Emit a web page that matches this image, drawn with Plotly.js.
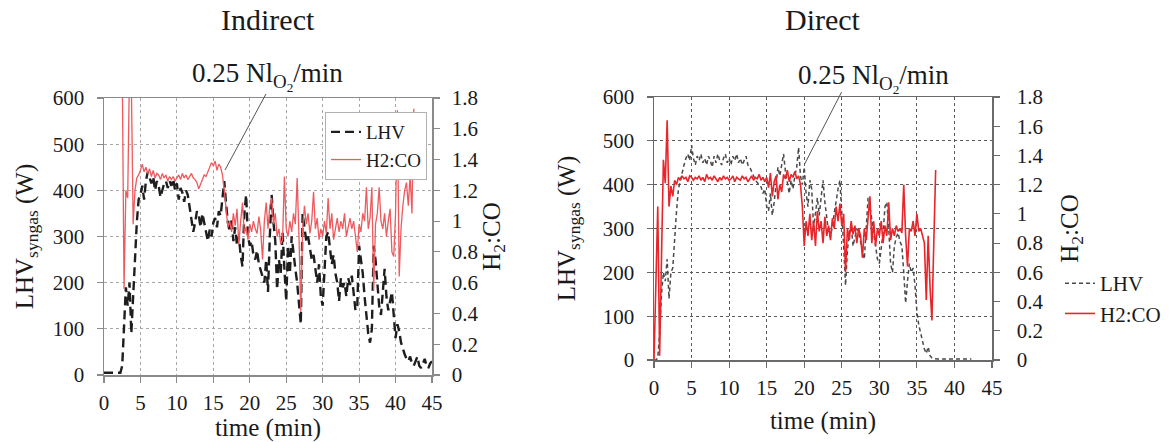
<!DOCTYPE html>
<html>
<head>
<meta charset="utf-8">
<script src="https://cdn.plot.ly/plotly-3.0.1.min.js"></script>
<style>html,body{margin:0;padding:0;background:#fff;}#chart{width:1174px;height:442px;}</style>
</head>
<body>
<div id="chart"></div>
<script>
// ---------- DATA (sampled every 0.25 min, starting at t = 0) ----------
const sampleStart = 0;
const sampleStep = 0.25;

// Indirect: LHV syngas (W), one row per minute
const indirectLHV = [
  5,5,5,5,          // 0
  5,5,5,5,          // 1
  5,5,20,120,       // 2
  190,150,200,90,   // 3
  160,250,330,380,  // 4
  390,410,380,420,  // 5
  440,425,415,430,  // 6
  400,420,410,385,  // 7
  400,415,420,405,  // 8
  420,410,425,400,  // 9
  415,380,405,395,  // 10
  375,400,390,360,  // 11
  340,310,330,355,  // 12
  345,320,350,330,  // 13
  305,290,315,300,  // 14
  330,340,320,355,  // 15
  345,390,420,370,  // 16
  330,310,340,290,  // 17
  320,280,300,260,  // 18
  235,350,390,300,  // 19
  280,290,260,250,  // 20
  270,240,225,210,  // 21
  200,250,180,300,  // 22
  390,330,290,185,  // 23
  250,220,310,230,  // 24
  160,280,220,300,  // 25
  260,230,200,150,  // 26
  110,350,320,290,  // 27
  300,270,250,260,  // 28
  230,200,240,170,  // 29
  150,220,300,310,  // 30
  280,240,260,220,  // 31
  200,160,210,190,  // 32
  200,170,210,195,  // 33
  215,180,140,150,  // 34
  280,250,220,170,  // 35
  120,90,70,100,    // 36
  280,250,200,150,  // 37
  130,180,230,170,  // 38
  140,160,180,130,  // 39
  80,110,95,70,     // 40
  55,45,35,30,      // 41
  40,25,20,30,      // 42
  40,20,15,25,      // 43
  35,20,15,25,      // 44
  30                // 45
];

// Indirect: H2:CO ratio
const indirectH2CO = [
  null,null,null,null,   // 0
  null,null,null,null,   // 1
  null,null,2.0,0.56,    // 2
  1.20,1.15,2.0,1.90,    // 3
  0.98,1.20,1.28,1.30,   // 4
  1.33,1.37,1.32,1.35,   // 5
  1.31,1.34,1.29,1.33,   // 6
  1.28,1.31,1.30,1.27,   // 7
  1.31,1.28,1.30,1.26,   // 8
  1.29,1.27,1.29,1.26,   // 9
  1.28,1.30,1.27,1.31,   // 10
  1.28,1.30,1.27,1.29,   // 11
  1.31,1.28,1.27,1.25,   // 12
  1.21,1.24,1.27,1.30,   // 13
  1.29,1.32,1.35,1.38,   // 14
  1.36,1.39,1.33,1.37,   // 15
  1.35,1.30,1.20,1.05,   // 16
  0.96,1.00,0.93,1.05,   // 17
  0.97,1.08,0.85,1.00,   // 18
  1.12,0.92,0.96,0.88,   // 19
  0.98,0.93,1.00,0.95,   // 20
  0.92,1.03,0.94,0.75,   // 21
  1.00,1.12,0.95,1.10,   // 22
  1.15,0.98,1.05,0.90,   // 23
  0.95,0.85,0.88,1.29,   // 24
  0.95,0.90,1.00,0.93,   // 25
  1.05,0.98,1.28,0.90,   // 26
  0.41,0.95,1.10,0.98,   // 27
  1.05,0.92,1.00,1.19,   // 28
  0.95,1.02,0.88,0.95,   // 29
  0.90,1.00,0.92,1.15,   // 30
  0.95,1.05,0.88,0.95,   // 31
  1.02,0.93,1.00,0.95,   // 32
  1.05,0.90,0.97,1.02,   // 33
  0.95,1.00,0.90,0.80,   // 34
  0.98,0.93,1.05,1.00,   // 35
  1.22,0.95,1.02,1.22,   // 36
  0.55,0.98,1.05,1.22,   // 37
  1.00,0.95,1.05,0.90,   // 38
  1.00,1.08,0.80,0.77,   // 39
  1.05,1.72,0.64,0.95,   // 40
  1.10,1.20,1.25,1.10,   // 41
  1.30,1.05,1.73         // 42
];

// Direct: LHV syngas (W)
const directLHV = [
  0,0,5,60,          // 0
  150,200,180,230,   // 1
  140,200,210,280,   // 2
  340,390,410,430,   // 3
  445,460,470,455,   // 4
  490,460,445,465,   // 5
  455,470,450,460,   // 6
  445,465,455,440,   // 7
  465,450,470,455,   // 8
  445,460,470,450,   // 9
  460,445,465,455,   // 10
  470,450,460,445,   // 11
  455,465,445,440,   // 12
  430,420,410,405,   // 13
  400,395,380,390,   // 14
  350,340,380,330,   // 15
  360,400,440,420,   // 16
  450,470,430,400,   // 17
  380,410,390,420,   // 18
  440,485,420,400,   // 19
  440,380,350,410,   // 20
  390,300,340,370,   // 21
  330,380,410,360,   // 22
  320,290,280,310,   // 23
  340,360,390,410,   // 24
  340,260,170,250,   // 25
  290,310,260,280,   // 26
  300,290,270,250,   // 27
  230,300,370,350,   // 28
  320,290,260,230,   // 29
  220,250,290,350,   // 30
  360,300,220,200,   // 31
  260,280,290,270,   // 32
  260,200,130,180,   // 33
  220,200,210,170,   // 34
  110,80,60,40,      // 35
  25,15,30,10,       // 36
  5,3,2,2,           // 37
  2,2,2,2,           // 38
  2,2,2,2,           // 39
  2,2,2,2,           // 40
  2,2,2,2,           // 41
  2,2                // 42
];

// Direct: H2:CO ratio
const directH2CO = [
  0.00,0.60,1.05,0.03,   // 0
  0.66,1.37,1.21,1.64,   // 1
  1.05,1.19,1.12,1.23,   // 2
  1.20,1.25,1.23,1.26,   // 3
  1.24,1.25,1.22,1.26,   // 4
  1.25,1.23,1.25,1.24,   // 5
  1.26,1.23,1.25,1.22,   // 6
  1.27,1.24,1.25,1.23,   // 7
  1.26,1.24,1.22,1.25,   // 8
  1.23,1.26,1.24,1.25,   // 9
  1.23,1.24,1.26,1.22,   // 10
  1.25,1.24,1.23,1.26,   // 11
  1.24,1.25,1.22,1.24,   // 12
  1.26,1.23,1.25,1.24,   // 13
  1.27,1.23,1.25,1.22,   // 14
  1.25,1.18,1.28,1.12,   // 15
  1.22,1.26,1.10,1.20,   // 16
  1.15,1.27,1.24,1.30,   // 17
  1.22,1.27,1.25,1.29,   // 18
  1.24,1.26,1.20,1.05,   // 19
  0.78,0.95,0.85,1.00,   // 20
  0.82,0.95,0.78,1.02,   // 21
  0.88,0.95,0.80,0.98,   // 22
  0.85,0.92,0.82,0.97,   // 23
  0.90,1.05,0.95,1.07,   // 24
  0.92,1.00,0.60,0.90,   // 25
  0.82,0.95,0.86,0.92,   // 26
  0.80,0.90,0.85,0.70,   // 27
  0.90,0.82,1.00,1.12,   // 28
  0.80,0.95,0.78,0.90,   // 29
  0.85,0.95,0.80,0.92,   // 30
  0.85,1.08,0.82,0.90,   // 31
  0.85,0.92,0.88,0.90,   // 32
  0.87,1.20,0.85,0.64,   // 33
  0.90,0.88,0.95,0.85,   // 34
  1.00,0.88,0.90,0.84,   // 35
  0.80,0.41,0.85,0.50,   // 36
  0.27,0.80,1.30         // 37
];

// Tick labels
const timeTicks = [0,5,10,15,20,25,30,35,40,45];
const lhvTicks = [0,100,200,300,400,500,600];
const ratioTickVals = [0,0.2,0.4,0.6,0.8,1,1.2,1.4,1.6,1.8];
const ratioTickText = ['0','0.2','0.4','0.6','0.8','1','1.2','1.4','1.6','1.8'];

// Text
const panelTitles = ['Indirect','Direct'];
const o2Label = '0.25 Nl<sub>O<sub>2</sub></sub>/min';
const seriesNames = ['LHV','H2:CO'];

// ---------- CHART ----------
const W = 1174, H = 442;
const SERIF = '"Liberation Serif", "DejaVu Serif", serif';
const tickFont = {family: SERIF, size: 21, color: '#1a1a1a'};
const axTitleFont = {family: SERIF, size: 25, color: '#1a1a1a'};

function px2x(p){ return p / W; }
function px2y(p){ return 1 - p / H; }

const traces = [
  {x0: sampleStart, dx: sampleStep, y: indirectLHV, type: 'scatter', mode: 'lines', name: seriesNames[0],
   xaxis: 'x', yaxis: 'y', legend: 'legend',
   line: {color: '#1e1e1e', width: 2.4, dash: '9px,5px'}},
  {x0: sampleStart, dx: sampleStep, y: indirectH2CO, type: 'scatter', mode: 'lines', name: seriesNames[1],
   xaxis: 'x', yaxis: 'y2', legend: 'legend',
   line: {color: '#ee5a5e', width: 1.3}},
  {x0: sampleStart, dx: sampleStep, y: directLHV, type: 'scatter', mode: 'lines', name: seriesNames[0],
   xaxis: 'x2', yaxis: 'y3', legend: 'legend2',
   line: {color: '#4a4a4a', width: 1.5, dash: '4px,3px'}},
  {x0: sampleStart, dx: sampleStep, y: directH2CO, type: 'scatter', mode: 'lines', name: seriesNames[1],
   xaxis: 'x2', yaxis: 'y4', legend: 'legend2',
   line: {color: '#e8252a', width: 1.6}}
];

function xAxis(domain, anchor, gridColor, lineColor, titleStandoff){
  return {
    domain: domain, anchor: anchor, range: [0,45], tickmode: 'array', tickvals: timeTicks,
    showgrid: true, gridcolor: gridColor, griddash: 'dot', gridwidth: 1.2,
    zeroline: false, showline: true, mirror: true, linecolor: lineColor, linewidth: 1.5,
    ticks: 'outside', ticklen: 6, tickcolor: lineColor, tickwidth: 1.2,
    tickfont: tickFont, ticklabelstandoff: 2,
    title: {text: 'time (min)', font: axTitleFont, standoff: titleStandoff},
    fixedrange: true
  };
}
function lhvAxis(domain, anchor, gridColor, lineColor, titleStandoff){
  return {
    domain: domain, anchor: anchor, range: [0,600], tickmode: 'array', tickvals: lhvTicks,
    showgrid: true, gridcolor: gridColor, griddash: 'dot', gridwidth: 1.2,
    zeroline: false, showline: true, linecolor: lineColor, linewidth: 1.5,
    ticks: 'outside', ticklen: 6, tickcolor: lineColor, tickwidth: 1.2,
    tickfont: tickFont, ticklabelstandoff: 8,
    title: {text: 'LHV<sub>syngas</sub> (W)', font: axTitleFont, standoff: titleStandoff},
    fixedrange: true
  };
}
function ratioAxis(overlay, anchor, lineColor, labelStandoff, titleStandoff){
  return {
    overlaying: overlay, anchor: anchor, side: 'right', range: [0,1.8],
    tickmode: 'array', tickvals: ratioTickVals, ticktext: ratioTickText,
    showgrid: false, zeroline: false, showline: true, linecolor: lineColor, linewidth: 1.5,
    ticks: 'outside', ticklen: 6, tickcolor: lineColor, tickwidth: 1.2,
    tickfont: tickFont, ticklabelstandoff: labelStandoff,
    title: {text: 'H<sub>2</sub>:CO', font: axTitleFont, standoff: titleStandoff},
    fixedrange: true
  };
}

const leftX = [px2x(104), px2x(432)];
const leftY = [px2y(375), px2y(98)];
const rightX = [px2x(654), px2x(992)];
const rightY = [px2y(360), px2y(97)];

const layout = {
  width: W, height: H,
  margin: {l: 0, r: 0, t: 0, b: 0},
  paper_bgcolor: '#fff', plot_bgcolor: '#fff',
  font: {family: SERIF, color: '#1a1a1a'},
  xaxis: xAxis(leftX, 'y', '#a8a8a8', '#8a8a8a', 4),
  yaxis: lhvAxis(leftY, 'x', '#a8a8a8', '#8a8a8a', 12),
  yaxis2: ratioAxis('y', 'x', '#8a8a8a', 8, 3),
  xaxis2: xAxis(rightX, 'y3', '#5a5a5a', '#6a6a6a', 13),
  yaxis3: lhvAxis(rightY, 'x2', '#5a5a5a', '#6a6a6a', 20),
  yaxis4: ratioAxis('y3', 'x2', '#6a6a6a', 13, 18),
  showlegend: true,
  legend: {
    x: px2x(325), y: px2y(112), xanchor: 'left', yanchor: 'top',
    bgcolor: '#fff', bordercolor: '#b0b0b0', borderwidth: 1,
    font: {family: SERIF, size: 19, color: '#1a1a1a'},
    itemwidth: 30, tracegroupgap: 0
  },
  legend2: {
    x: px2x(1060), y: px2y(263), xanchor: 'left', yanchor: 'top',
    bgcolor: 'rgba(0,0,0,0)', borderwidth: 0,
    font: {family: SERIF, size: 21, color: '#1a1a1a'},
    itemwidth: 30, tracegroupgap: 0
  },
  annotations: [
    {text: panelTitles[0], xref: 'paper', yref: 'paper', x: px2x(268), y: px2y(20),
     xanchor: 'center', yanchor: 'middle', showarrow: false, font: {family: SERIF, size: 30, color: '#1a1a1a'}},
    {text: panelTitles[1], xref: 'paper', yref: 'paper', x: px2x(823), y: px2y(20),
     xanchor: 'center', yanchor: 'middle', showarrow: false, font: {family: SERIF, size: 30, color: '#1a1a1a'}},
    {text: o2Label, xref: 'paper', yref: 'paper', x: px2x(267), y: px2y(76),
     xanchor: 'center', yanchor: 'middle', showarrow: false, font: {family: SERIF, size: 27, color: '#1a1a1a'}},
    {text: o2Label, xref: 'paper', yref: 'paper', x: px2x(873), y: px2y(78),
     xanchor: 'center', yanchor: 'middle', showarrow: false, font: {family: SERIF, size: 27, color: '#1a1a1a'}},
    // pointer lines
    {text: ' ', xref: 'x', yref: 'y', x: 16.6, y: 444, ax: 42, ay: -78,
     showarrow: true, arrowhead: 0, arrowwidth: 1, arrowcolor: '#555', standoff: 0, startstandoff: 0,
     font: {size: 1}},
    {text: ' ', xref: 'x2', yref: 'y3', x: 20.05, y: 447, ax: 38, ay: -74,
     showarrow: true, arrowhead: 0, arrowwidth: 1, arrowcolor: '#555', standoff: 0, startstandoff: 0,
     font: {size: 1}}
  ]
};

Plotly.newPlot('chart', traces, layout, {staticPlot: true, displayModeBar: false});
</script>
</body>
</html>
